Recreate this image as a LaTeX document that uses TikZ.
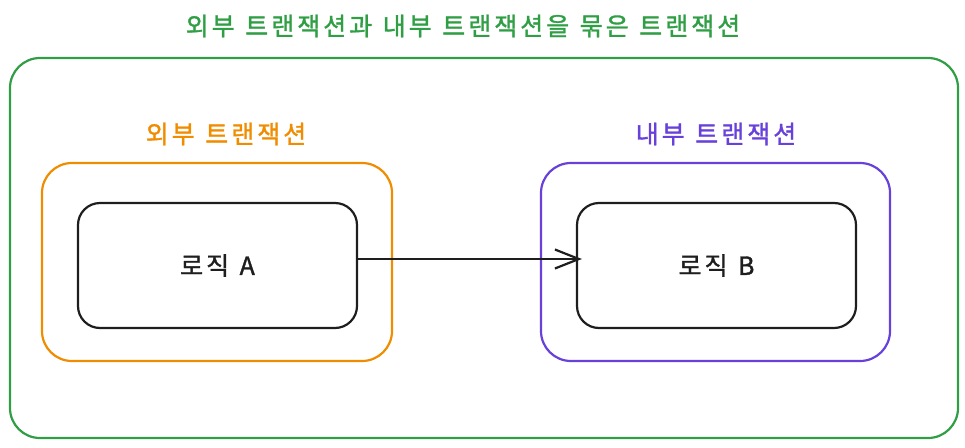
\documentclass[tikz,border=0pt]{standalone}
\usepackage{fontspec}
\setmainfont{Noto Sans CJK KR}
\newfontfamily\kfont[LetterSpace=12,FakeBold=1.3]{Noto Sans CJK KR}
\newcommand{\wsp}{\hspace{0.42em}}
\usetikzlibrary{arrows.meta}
\definecolor{cgreen}{HTML}{2F9E44}
\definecolor{corange}{HTML}{F08C00}
\definecolor{cpurple}{HTML}{6741D9}
\definecolor{cblack}{HTML}{1E1E1E}
\tikzset{
  box/.style={draw, line width=2.2pt, rounded corners=#1},
  lbl/.style={font=\kfont\fontsize{25}{28}\selectfont, inner sep=0pt, anchor=center},
  logic/.style={draw=cblack, line width=2.2pt, rounded corners=22pt, minimum width=279pt, minimum height=125pt, inner sep=0pt, font=\kfont\fontsize{25}{28}\selectfont, text=cblack},
}
\begin{document}
\begin{tikzpicture}[x=1pt,y=-1pt]
\useasboundingbox (0,0) rectangle (965,447);
\node[lbl, text=cgreen] (title) at (463,26) {외부\wsp 트랜잭션과\wsp 내부\wsp 트랜잭션을\wsp 묶은\wsp 트랜잭션};
\draw[box=30pt, cgreen] (10,58) rectangle (958,438);
\node[lbl, text=corange] (outerlbl) at (226,134) {외부\wsp 트랜잭션};
\draw[box=30pt, corange] (42,163) rectangle (392,361);
\node[lbl, text=cpurple] (innerlbl) at (716,134) {내부\wsp 트랜잭션};
\draw[box=30pt, cpurple] (541,163) rectangle (890,361);
\node[logic] (a) at (217.5,265.5) {로직\wsp A};
\node[logic] (b) at (716.5,265.5) {로직\wsp B};
\draw[cblack, line width=2.2pt, shorten >=-6pt, -{Straight Barb[length=24pt,width=19pt]}] (a.east |- 0,259) -- (b.west |- 0,259);
\end{tikzpicture}
\end{document}
